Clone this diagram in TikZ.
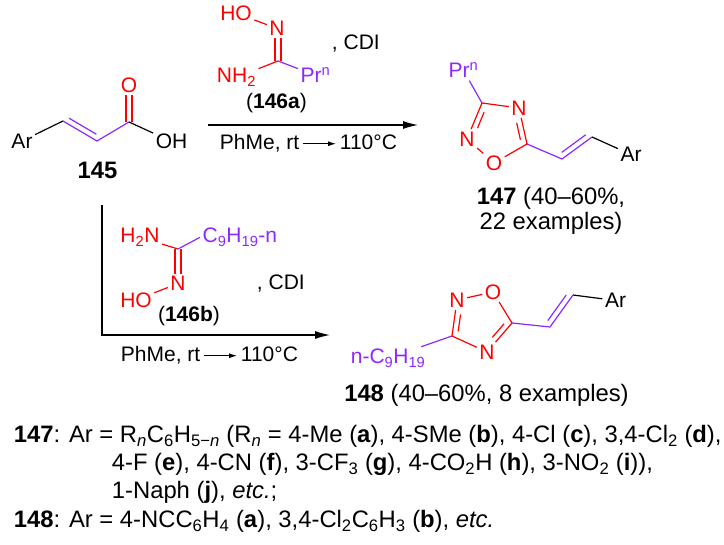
\documentclass[tikz,border=0pt]{standalone}
\usepackage{fontspec}
\setmainfont{Liberation Sans}
\usetikzlibrary{arrows.meta,calc}
\definecolor{chemred}{RGB}{255,0,0}
\definecolor{chemviolet}{RGB}{140,40,255}
% inner line of a double bond #1--#2 (offset, shorten at #1, shorten at #2, colour)
\newcommand\sidebond[6]{%
  \draw[#6] ($(#1)!#4!(#2)!#3!90:(#2)$) -- ($(#2)!#5!(#1)!#3!-90:(#1)$);}
\begin{document}
\begin{tikzpicture}[x=1pt,y=-1pt,line width=1.2pt,
  every node/.style={font=\fontsize{21}{25}\selectfont},
  atom/.style={inner sep=2pt},
  redatom/.style={atom,text=chemred},
  violetatom/.style={atom,text=chemviolet},
  bigtext/.style={font=\fontsize{23.8}{30}\selectfont},
  dblbond/.style={double,double distance=4.8pt},
  rxnarrow/.style={-{Latex[length=15pt,width=8pt]}},
  tinyarrow/.style={-{Latex[length=8pt,width=5pt]},line width=1pt}]
  \useasboundingbox (0,0) rectangle (724,545);

  % acid 145
  \node[atom] (arA) at (22,141) {Ar};
  \coordinate (c1A) at (63,121);
  \coordinate (c2A) at (97,141);
  \coordinate (c3A) at (129,122);
  \node[redatom] (oA) at (129,85) {O};
  \node[atom] (ohA) at (171.5,141.5) {OH};
  \node[bigtext,anchor=base] (lbl145) at (97.5,179) {\textbf{145}};
  \draw[chemred,dblbond] (c3A) -- (oA);
  \draw (arA) -- (c1A);
  \draw[chemviolet] (c1A) -- (c2A) -- (c3A);
  \sidebond{c1A}{c2A}{5.5pt}{0.1}{0.1}{chemviolet}
  \draw (c3A) -- (ohA);

  % amidoxime 146a
  \node[redatom] (hoA) at (236,13) {HO};
  \node[redatom] (nA) at (277,28.5) {N};
  \coordinate (cA) at (278,61);
  \node[redatom,anchor=base] (nh2A) at (236.5,83) {NH\textsubscript{2}};
  \node[violetatom,anchor=base west] (prA) at (298,83) {Pr\textsuperscript{n}};
  \node[anchor=base west] (cdiA) at (328,50) {, CDI};
  \node[anchor=base] (lbl146a) at (276.5,108.5) {(\textbf{146a})};
  \draw[chemred] (hoA) -- (nA);
  \draw[chemred,dblbond] (cA |- nA.south) -- (cA);
  \draw[chemred] (cA) -- (nh2A);
  \draw[chemviolet] (cA) -- (prA);

  % upper arrow
  \coordinate (arr1s) at (208,125);
  \coordinate (arr1e) at (418,125);
  \draw[rxnarrow] (arr1s) -- (arr1e);
  \node[anchor=base west] (cond1) at (216,150) {PhMe, rt};
  \node[anchor=base west] (temp1) at (336,150) {110°C};
  \draw[tinyarrow] (cond1.east) -- (cond1.east -| temp1.west);

  % oxadiazole 147
  \node[violetatom,anchor=base west] (prB) at (446,78) {Pr\textsuperscript{n}};
  \coordinate (c3B) at (482,103);
  \node[redatom] (n4B) at (519,108) {N};
  \coordinate (c5B) at (527,144);
  \node[redatom] (o1B) at (494,163) {O};
  \node[redatom] (n2B) at (467,139) {N};
  \coordinate (caB) at (562,159);
  \coordinate (cbB) at (592,137);
  \node[atom] (arB) at (631,154.5) {Ar};
  \draw[chemviolet] (prB) -- (c3B);
  \draw[chemred] (c3B) -- (n4B) -- (c5B) -- (o1B) -- (n2B) -- (c3B);
  \sidebond{n2B}{c3B}{-5.5pt}{0.36}{0.2}{chemred}
  \sidebond{n4B}{c5B}{-5.5pt}{0.38}{0.15}{chemred}
  \draw[chemviolet] (c5B) -- (caB) -- (cbB);
  \sidebond{caB}{cbB}{5.5pt}{0.1}{0.1}{chemviolet}
  \draw (cbB) -- (arB);
  \node[bigtext,anchor=base] (lbl147) at (551,205) {\textbf{147} (40–60\%,};
  \node[bigtext,anchor=base] (ex147) at (551,230) {22 examples)};

  % lower arrow
  \coordinate (arr2s) at (102,205);
  \coordinate (arr2c) at (102,335);
  \coordinate (arr2e) at (330,335);
  \draw[rxnarrow] (arr2s) -- (arr2c) -- (arr2e);

  % amidoxime 146b
  \node[redatom,anchor=base] (h2nC) at (140,243) {H\textsubscript{2}N};
  \coordinate (cC) at (178,249);
  \node[violetatom,anchor=base west] (c9C) at (200,243) {C\textsubscript{9}H\textsubscript{19}-n};
  \node[redatom] (nC) at (178,283.5) {N};
  \node[redatom] (hoC) at (136,300) {HO};
  \node[anchor=base west] (cdiC) at (253,289.5) {, CDI};
  \node[anchor=base] (lbl146b) at (189,322) {(\textbf{146b})};
  \draw[chemred,dblbond] (cC) -- (cC |- nC.north);
  \draw[chemred] (h2nC) -- (cC);
  \draw[chemviolet] (cC) -- (c9C.west);
  \draw[chemred] (nC) -- (hoC);
  \node[anchor=base west] (cond2) at (117,362) {PhMe, rt};
  \node[anchor=base west] (temp2) at (237,362) {110°C};
  \draw[tinyarrow] (cond2.east) -- (cond2.east -| temp2.west);

  % oxadiazole 148
  \node[violetatom,anchor=base east] (c9D) at (428,364) {n-C\textsubscript{9}H\textsubscript{19}};
  \coordinate (c3D) at (452,336);
  \node[redatom] (n2D) at (457,300) {N};
  \node[redatom] (o1D) at (493,292) {O};
  \coordinate (c5D) at (512,323);
  \node[redatom] (n4D) at (487,352) {N};
  \coordinate (caD) at (550,327);
  \coordinate (cbD) at (573,295);
  \node[atom] (arD) at (615.5,300.5) {Ar};
  \draw[chemviolet] (c9D) -- (c3D);
  \draw[chemred] (c3D) -- (n2D) -- (o1D) -- (c5D) -- (n4D) -- (c3D);
  \sidebond{c3D}{n2D}{-5.5pt}{0.15}{0.38}{chemred}
  \sidebond{c5D}{n4D}{-5.5pt}{0.15}{0.38}{chemred}
  \draw[chemviolet] (c5D) -- (caD) -- (cbD);
  \sidebond{caD}{cbD}{5.5pt}{0.1}{0.1}{chemviolet}
  \draw (cbD) -- (arD);
  \node[bigtext,anchor=base] (lbl148) at (486.5,402) {\textbf{148} (40–60\%, 8 examples)};

  % substituents
  \node[bigtext,anchor=base west] (note147) at (10,443) {\textbf{147}: Ar = R\textsubscript{\textit{n}}C\textsubscript{6}H\textsubscript{5−\textit{n}} (R\textsubscript{\textit{n}} = 4-Me (\textbf{a}), 4-SMe (\textbf{b}), 4-Cl (\textbf{c}), 3,4-Cl\textsubscript{2} (\textbf{d}),};
  \node[bigtext,anchor=base west] (note147b) at (108,471) {4-F (\textbf{e}), 4-CN (\textbf{f}), 3-CF\textsubscript{3} (\textbf{g}), 4-CO\textsubscript{2}H (\textbf{h}), 3-NO\textsubscript{2} (\textbf{i})),};
  \node[bigtext,anchor=base west] (note147c) at (108,499) {1-Naph (\textbf{j}), \textit{etc.};};
  \node[bigtext,anchor=base west] (note148) at (10,528) {\textbf{148}: Ar = 4-NCC\textsubscript{6}H\textsubscript{4} (\textbf{a}), 3,4-Cl\textsubscript{2}C\textsubscript{6}H\textsubscript{3} (\textbf{b}), \textit{etc.}};
\end{tikzpicture}
\end{document}
